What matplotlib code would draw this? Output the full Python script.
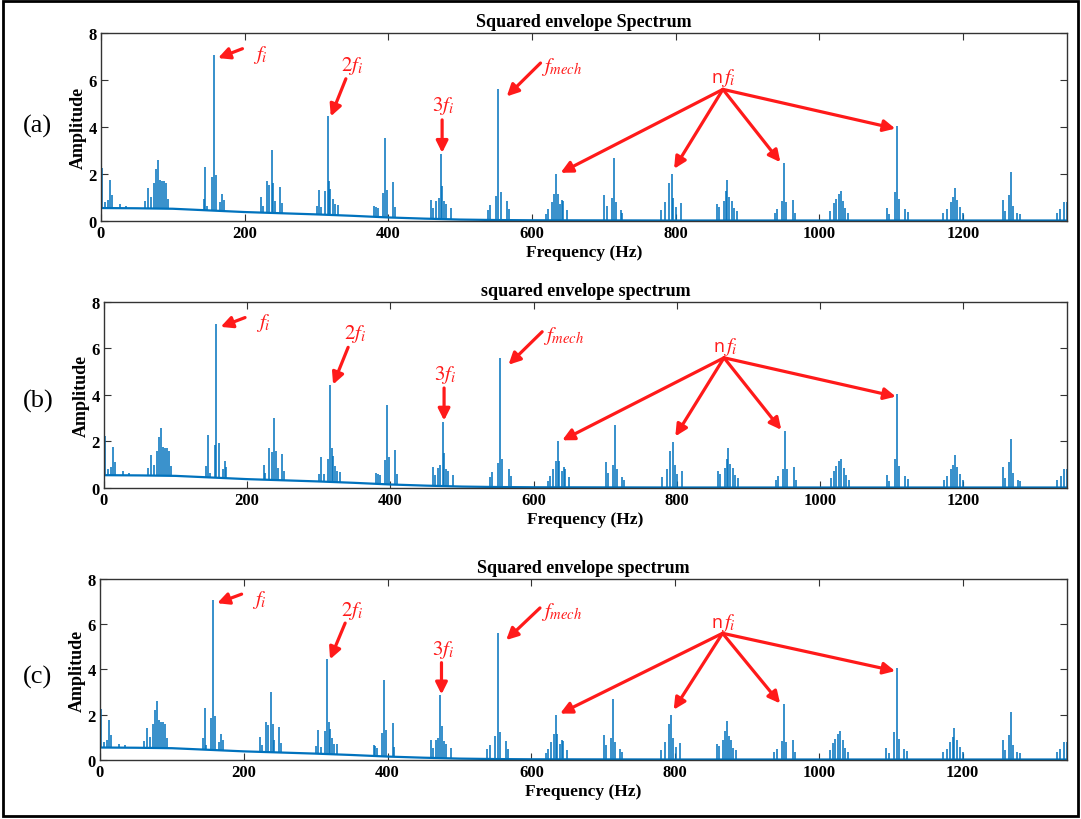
import numpy as np
import matplotlib
matplotlib.use("Agg")
import matplotlib.pyplot as plt
from matplotlib.patches import Rectangle

plt.rcParams['font.family'] = ['Liberation Serif', 'DejaVu Serif']
plt.rcParams['mathtext.fontset'] = 'stix'

# slowly decaying noise floor (Hz, amplitude)
base_freqs = [0, 50, 100, 150, 200, 250, 300, 350, 400, 450, 500, 550, 600, 700, 800, 1000, 1345]
base_amps = [0.55, 0.54, 0.52, 0.45, 0.38, 0.33, 0.28, 0.22, 0.15, 0.10, 0.06, 0.04, 0.03, 0.025, 0.02, 0.02, 0.02]

# spectral lines (Hz, amplitude)
peak_freqs = [
    2, 5, 10, 12.5, 15, 26, 35,
    61, 65, 70, 74, 77, 79.5, 82, 85, 88, 91, 93,
    143, 145.5, 148, 154.5, 157, 160, 166, 168.5, 171,
    223, 225.5, 231, 234, 237.5, 240, 242.5, 249, 251.5,
    300.5, 303.5, 307, 312.5, 315.5, 318, 319.5, 323, 326, 330,
    380.5, 383, 386, 392, 395, 398.5, 407, 409.5,
    460, 463, 467, 470, 473, 475.5, 478, 481, 488,
    539, 542, 550, 553.5, 556.5, 565, 568,
    620, 623, 627.5, 631, 634, 636, 639.5, 642, 644, 649,
    701, 704, 711, 714, 716.5, 723.5, 726,
    780, 786, 791, 794.5, 797, 801, 807,
    858, 861, 867, 870, 872, 875, 878, 881, 885,
    938, 941, 948, 951.5, 954, 963.5, 967,
    1015, 1020, 1023, 1027, 1030, 1033, 1036, 1040,
    1094, 1097, 1105, 1108, 1111, 1119, 1123,
    1173, 1178, 1183, 1186, 1188.5, 1192, 1196, 1200,
    1256, 1259, 1264, 1267, 1270, 1276, 1280,
    1331, 1336, 1341, 1345,
]
peak_amps = [
    2.25, 0.8, 0.9, 1.75, 1.1, 0.72, 0.65,
    0.85, 1.4, 1.0, 1.6, 2.2, 2.6, 1.75, 1.7, 1.7, 1.6, 0.95,
    0.95, 2.28, 0.65, 1.85, 7.05, 1.95, 0.8, 1.15, 0.9,
    1.0, 0.65, 1.7, 1.55, 3.0, 1.6, 0.87, 1.45, 0.75,
    0.62, 1.32, 0.58, 1.26, 4.45, 1.7, 1.38, 0.95, 0.72, 0.7,
    0.65, 0.6, 0.55, 1.19, 3.55, 1.33, 1.64, 0.58,
    0.9, 0.55, 0.87, 0.97, 2.85, 1.5, 0.83, 0.72, 0.55,
    0.48, 0.68, 1.06, 5.6, 1.23, 0.83, 0.5,
    0.3, 0.5, 0.8, 1.15, 2.0, 1.15, 0.72, 0.9, 0.83, 0.46,
    1.12, 0.65, 0.98, 2.7, 0.8, 0.48, 0.36,
    0.46, 0.8, 1.6, 1.98, 0.97, 0.58, 0.75,
    0.72, 0.6, 0.87, 1.26, 1.74, 1.04, 0.87, 0.54, 0.43,
    0.36, 0.5, 0.83, 2.46, 0.8, 0.9, 0.36,
    0.43, 0.75, 0.94, 1.16, 1.26, 0.87, 0.54, 0.36,
    0.54, 0.3, 1.23, 4.05, 0.94, 0.5, 0.4,
    0.36, 0.5, 0.8, 1.0, 1.4, 0.9, 0.58, 0.36,
    0.9, 0.43, 1.1, 2.1, 0.65, 0.36, 0.3,
    0.36, 0.5, 0.8, 0.8,
]

titles = ["Squared envelope Spectrum", "squared envelope spectrum", "Squared envelope spectrum"]
panel_tags = ["(a)", "(b)", "(c)"]
xticks = [0, 200, 400, 600, 800, 1000, 1200]
yticks = [0, 2, 4, 6, 8]

# axes rectangles in figure fractions (left, bottom, width, height)
axes_boxes = [
    (0.0934, 0.7293, 0.8936, 0.2293),
    (0.0962, 0.4037, 0.8908, 0.2268),
    (0.0925, 0.0720, 0.8945, 0.2207),
]
tag_y = [0.846, 0.510, 0.174]

blue = '#0072BD'
red = '#FF1A1A'


def arrow(ax, head, tail):
    ax.annotate('', xy=head, xytext=tail,
                arrowprops=dict(arrowstyle='-|>,head_length=0.7,head_width=0.35',
                                color=red, lw=2.3, shrinkA=0, shrinkB=0))


def draw_panel(ax, title):
    pf = np.array(peak_freqs)
    bottoms = np.interp(pf, base_freqs, base_amps)
    ax.plot(base_freqs, base_amps, color=blue, lw=1.6)
    ax.vlines(pf, bottoms, peak_amps, color=blue, lw=1.1)

    ax.set_xlim(0, 1345)
    ax.set_ylim(0, 8)
    ax.set_xticks(xticks)
    ax.set_yticks(yticks)
    ax.tick_params(direction='in', length=5, top=True, right=True,
                   labelsize=12, pad=3, color='#333333')
    for lab in ax.get_xticklabels() + ax.get_yticklabels():
        lab.set_fontweight('bold')
    for s in ax.spines.values():
        s.set_color('#333333')
        s.set_linewidth(1.0)
    ax.set_title(title, fontsize=13, fontweight='bold', pad=5)
    ax.set_xlabel('Frequency (Hz)', fontsize=12.5, fontweight='bold', labelpad=2)
    ax.set_ylabel('Amplitude', fontsize=13, fontweight='bold', labelpad=1)

    # annotations
    arrow(ax, (163, 6.93), (197, 7.33))
    ax.text(212, 7.12, '$f_i$', color=red, fontsize=15, va='center', ha='left')
    arrow(ax, (320, 4.45), (341, 6.05))
    ax.text(350, 6.65, '$2f_i$', color=red, fontsize=15, va='center', ha='center')
    arrow(ax, (475, 2.9), (475, 4.3))
    ax.text(477, 4.92, '$3f_i$', color=red, fontsize=15, va='center', ha='center')
    arrow(ax, (565, 5.3), (612, 6.72))
    ax.text(613, 6.6, '$f_{mech}$', color=red, fontsize=15, va='center', ha='left')
    src = (866, 5.6)
    for head in [(640, 2.05), (798, 2.22), (946, 2.5), (1106, 3.93)]:
        arrow(ax, head, src)
    ax.text(866, 6.12, 'n', color=red, fontsize=13, va='center', ha='right',
            family='Open Sans')
    ax.text(864, 6.12, '$f_i$', color=red, fontsize=15, va='center', ha='left')


fig = plt.figure(figsize=(10.81, 8.2), dpi=100)
for box, title, tag, ty in zip(axes_boxes, titles, panel_tags, tag_y):
    ax = fig.add_axes(box)
    draw_panel(ax, title)
    fig.text(0.035, ty, tag, fontsize=19, ha='center', va='center')

fig.patches.append(Rectangle((0.003, 0.004), 0.994, 0.993, transform=fig.transFigure,
                             fill=False, edgecolor='black', lw=2.0))

fig.savefig('out.png', dpi=100)
